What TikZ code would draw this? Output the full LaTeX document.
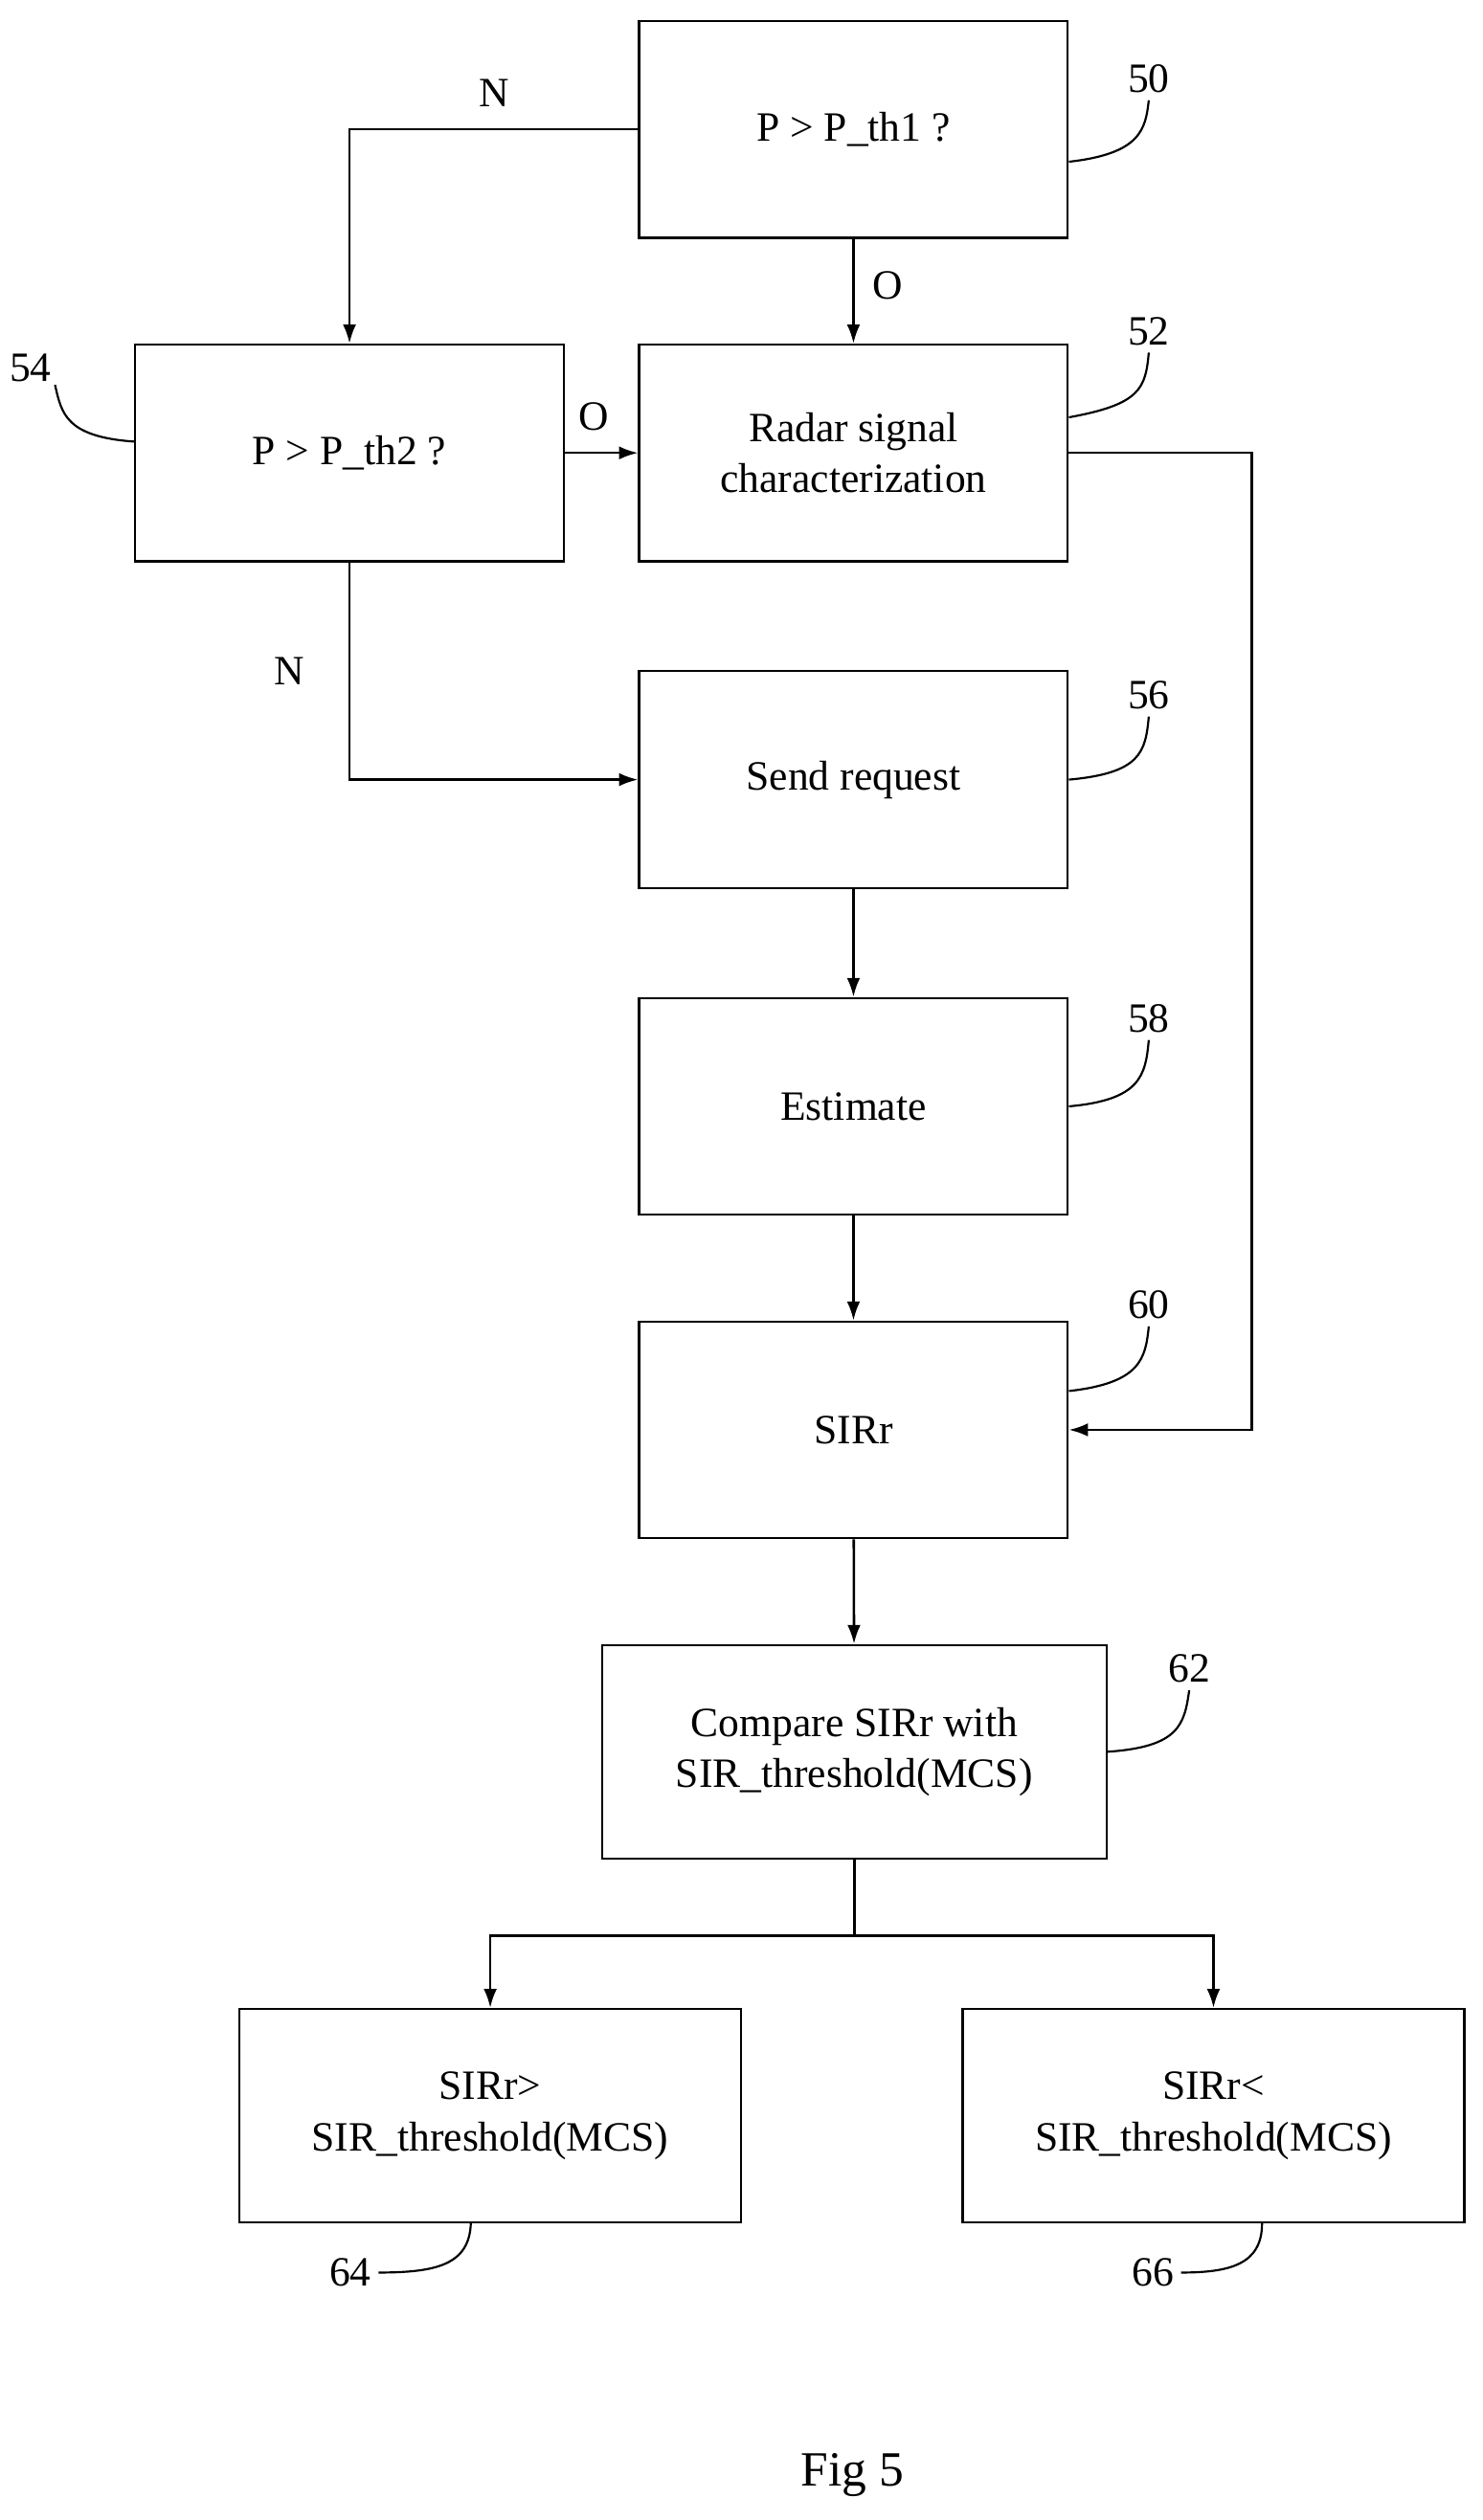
\documentclass[tikz,border=0pt]{standalone}
\usepackage{fontspec}
\setmainfont{Liberation Serif}
\usetikzlibrary{calc, arrows.meta}

\begin{document}
\begin{tikzpicture}[
        x=0.03cm, y=-0.03cm,
        box/.style={draw, line width=1.1pt, minimum width=265*0.03cm, minimum height=134*0.03cm, align=center, font=\fontsize{22}{27}\selectfont},
        wbox/.style={box, minimum width=310*0.03cm, minimum height=132*0.03cm},
        flow/.style={line width=1.3pt, -{Latex[length=10pt, width=7pt]}},
        lbl/.style={font=\fontsize{22}{27}\selectfont},
        tag/.style={line width=1.1pt}   ]
    \useasboundingbox (0,0) rectangle (916,1558);
    % boxes
    \node[box] (pth1) at (527.5,80) {P > P\_th1 ?};
    \node[box] (radar) at (527.5,280) {Radar signal\\characterization};
    \node[box] (pth2) at (216,280) {P > P\_th2 ?};
    \node[box] (request) at (527.5,482) {Send request};
    \node[box] (estimate) at (527.5,684) {Estimate};
    \node[box] (sirr) at (527.5,884) {SIRr};
    \node[wbox, minimum width=312*0.03cm] (compare) at (528,1083) {Compare SIRr with\\SIR\_threshold(MCS)};
    \node[wbox] (above) at (303,1308) {SIRr>\\SIR\_threshold(MCS)};
    \node[wbox] (below) at (750,1308) {SIRr<\\SIR\_threshold(MCS)};
    % corners
    \coordinate (split) at ($(compare.south)+(0,47)$);
    % connectors
    \draw[flow] (pth1) -- (radar) node[lbl, pos=0.45, right=6pt] {O};
    \draw[flow] (pth1.west) -| (pth2.north) node[lbl, pos=0.25, above=8pt] {N};
    \draw[flow] (pth2) -- (radar) node[lbl, pos=0.4, above=8pt] {O};
    \draw[flow] (pth2.south) |- (request.west) node[lbl, pos=0.25, left=20pt] {N};
    \draw[flow] (radar.east) -- ++(113,0) |- (sirr.east);
    \draw[flow] (request) -- (estimate);
    \draw[flow] (estimate) -- (sirr);
    \draw[flow] (sirr) -- (compare);
    \draw[line width=1.3pt] (compare.south) -- (split);
    \draw[flow] (split) -| (above.north);
    \draw[flow] (split) -| (below.north);
    % reference numerals
    \draw[tag] (pth1.east) ++(0,20) .. controls (705,95) and (708,80) .. (710,62) node[lbl, above] {50};
    \draw[tag] (radar.east) ++(0,-22) .. controls (705,250) and (708,240) .. (710,218) node[lbl, above] {52};
    \draw[tag] (pth2.west) ++(0,-7) .. controls (40,270) and (38,255) .. (34,238) node[lbl, above left=-2pt] {54};
    \draw[tag] (request.east) ++(0,0) .. controls (705,478) and (708,465) .. (710,443) node[lbl, above] {56};
    \draw[tag] (estimate.east) ++(0,0) .. controls (705,680) and (708,665) .. (710,643) node[lbl, above] {58};
    \draw[tag] (sirr.east) ++(0,-24) .. controls (705,855) and (708,840) .. (710,820) node[lbl, above] {60};
    \draw[tag] (compare.east) ++(0,0) .. controls (729,1080) and (732,1066) .. (735,1045) node[lbl, above] {62};
    \draw[tag] (above.south) ++(-12,0) .. controls (290,1400) and (270,1405) .. (234,1405) node[lbl, left] {64};
    \draw[tag] (below.south) ++(30,0) .. controls (780,1400) and (760,1405) .. (730,1405) node[lbl, left] {66};
    % caption
    \node[font=\fontsize{26}{31}\selectfont] (fig) at (527,1530) {Fig 5};
\end{tikzpicture}
\end{document}
